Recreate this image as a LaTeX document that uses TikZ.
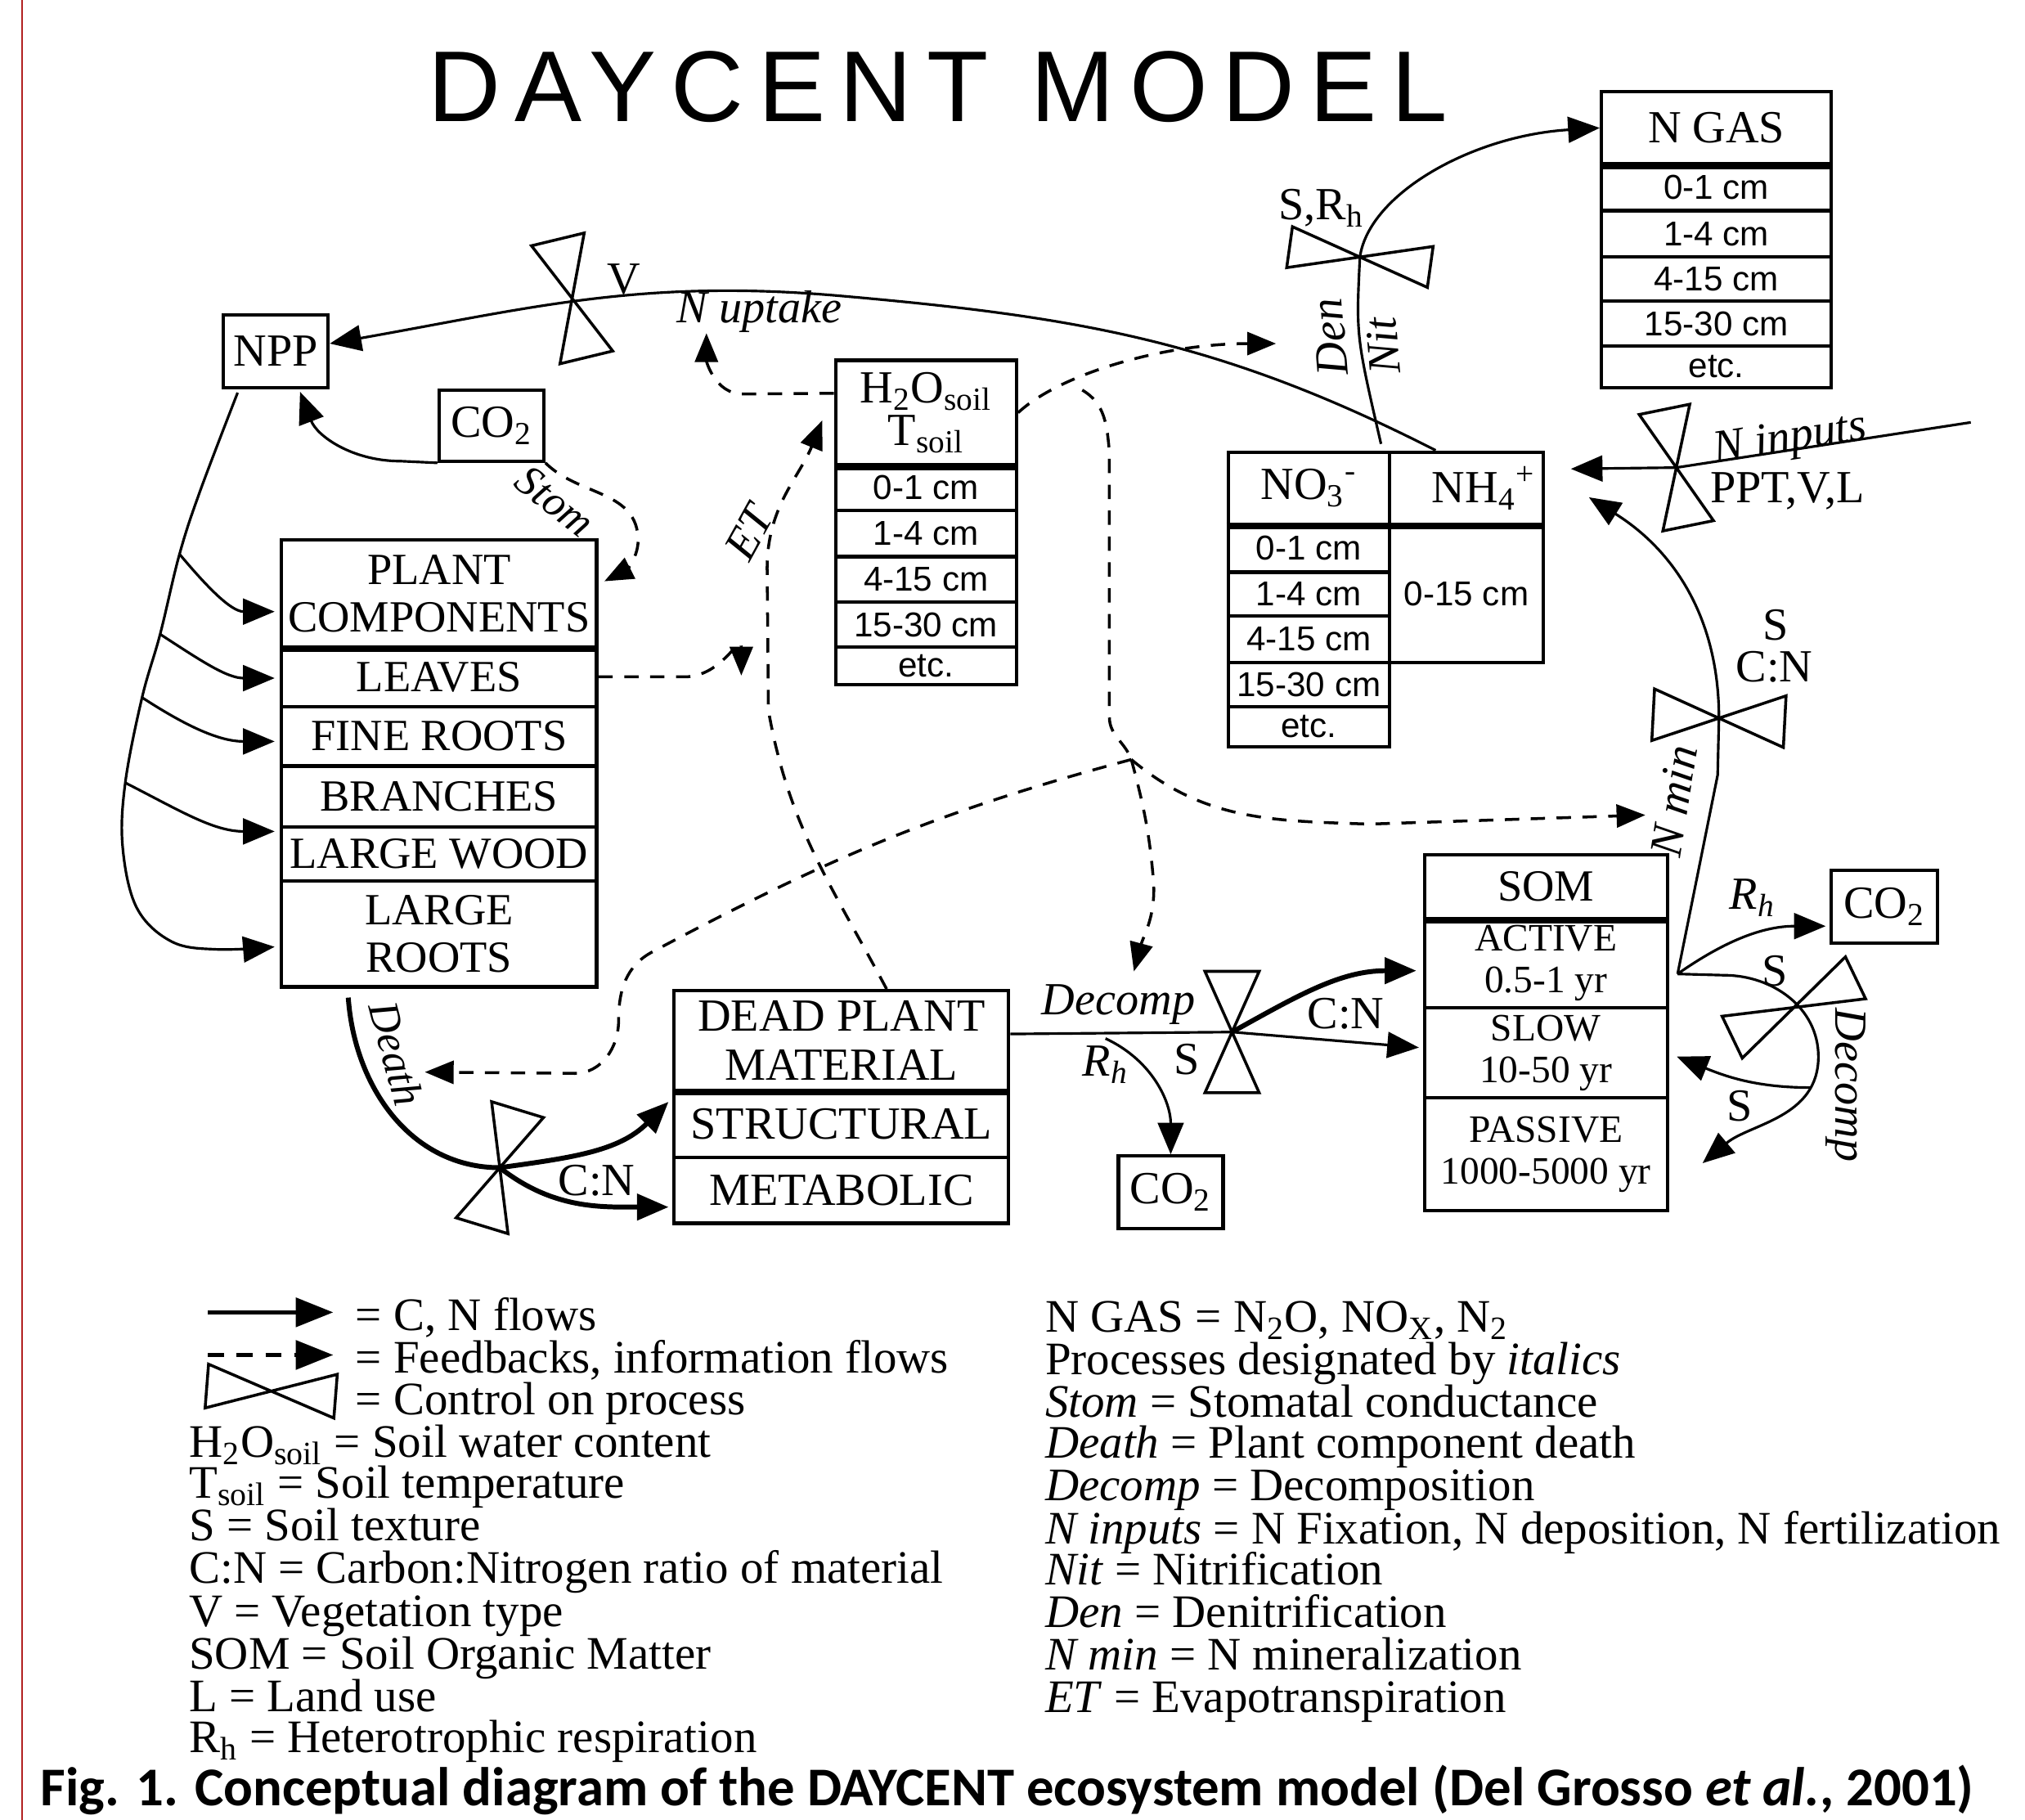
\documentclass[tikz,border=0pt]{standalone}
\usepackage{fontspec}
\setmainfont{Liberation Serif}
\setsansfont{Liberation Sans}
\newfontfamily\titlefont{Liberation Sans}[LetterSpace=14.5]
\newfontfamily\capfont{Carlito}
\usepackage{tikz}
\usetikzlibrary{arrows.meta,calc}
\definecolor{edgered}{RGB}{178,34,34}

\newcommand\pxu{0.1579mm}
% one cell of a box: [style]{name}{x1}{y1}{x2}{y2}{text}, y counted downwards
\newcommand\boxcell[7][]{%
  \node[cellbox,#1,minimum width={(#5-#3)*\pxu},minimum height={(#6-#4)*\pxu}]
    (#2) at ({(#3+#5)/2},{-(#4+#6)/2}) {#7};}

\begin{document}
\begin{tikzpicture}[x=\pxu,y=\pxu,
    cellbox/.style={draw,line width=1.2pt,inner sep=0pt,align=center,
      font=\fontsize{16}{17}\selectfont},
    plantrow/.style={font=\fontsize{15.5}{16.5}\selectfont},
    depth/.style={font=\sffamily\fontsize{12}{13}\selectfont},
    yrs/.style={font=\fontsize{13.5}{14.5}\selectfont},
    hdrline/.style={line width=2.4pt},
    cnline/.style={line width=0.9pt},
    cnflow/.style={cnline,-{Triangle[length=11pt,width=9pt]}},
    thickline/.style={line width=1.7pt},
    thickflow/.style={thickline,-{Triangle[length=11pt,width=9pt]}},
    fbline/.style={line width=1pt,dash pattern=on 5pt off 4pt},
    fback/.style={fbline,-{Triangle[length=10pt,width=8pt]}},
    lbl/.style={font=\fontsize{16}{17}\selectfont,inner sep=0pt},
    proc/.style={font=\itshape\fontsize{16}{17}\selectfont,inner sep=0pt},
    keytext/.style={font=\fontsize{16.2}{18}\selectfont,anchor=base west,inner sep=0pt,
      text height=10pt,text depth=2pt},
    pics/valve/.style n args={2}{code={
      \draw[line width=1pt,line join=miter] (-#1,#2) -- (#1,#2) -- (-#1,-#2) -- (#1,-#2) -- cycle;}}
  ]
  \useasboundingbox (0,0) rectangle (1568,-1409);
  \draw[edgered,line width=0.7pt] (17,0) -- (17,-1409);

  \node[font=\titlefont\fontsize{35}{37}\selectfont] (title) at (726,-67) {DAYCENT MODEL};

  % boxes
  \boxcell{npp}{173}{244}{254}{300}{NPP}
  \boxcell{co2t}{340}{302}{421}{357}{CO\textsubscript{2}}
  \boxcell{co2r}{1418}{674}{1500}{730}{CO\textsubscript{2}}
  \boxcell{co2b}{866}{895}{947}{951}{CO\textsubscript{2}}

  \boxcell[plantrow]{pc}{218}{418}{462}{501}{PLANT\\COMPONENTS}
  \boxcell[plantrow]{leaves}{218}{501}{462}{547}{LEAVES}
  \boxcell[plantrow]{froots}{218}{547}{462}{593}{FINE ROOTS}
  \boxcell[plantrow]{branches}{218}{593}{462}{640}{BRANCHES}
  \boxcell[plantrow]{lwood}{218}{640}{462}{682}{LARGE WOOD}
  \boxcell[plantrow]{lroots}{218}{682}{462}{764}{LARGE\\ROOTS}
  \draw[hdrline] (pc.south west) -- (pc.south east);

  \boxcell[font=\fontsize{16}{15}\selectfont]{h2o}{647}{279}{787}{360}{H\textsubscript{2}O\textsubscript{soil}\\T\textsubscript{soil}}
  \boxcell[depth]{h2oa}{647}{360}{787}{395}{0-1 cm}
  \boxcell[depth]{h2ob}{647}{395}{787}{431}{1-4 cm}
  \boxcell[depth]{h2oc}{647}{431}{787}{466}{4-15 cm}
  \boxcell[depth]{h2od}{647}{466}{787}{501}{15-30 cm}
  \boxcell[depth]{h2oe}{647}{501}{787}{530}{etc.}
  \draw[hdrline] (h2o.south west) -- (h2o.south east);

  \boxcell{no3}{951}{350}{1076}{406}{NO\textsubscript{3}\textsuperscript{-}}
  \boxcell{nh4}{1076}{350}{1195}{406}{\hspace*{12pt}NH\textsubscript{4}\textsuperscript{+}}
  \boxcell[depth]{no3a}{951}{406}{1076}{443}{0-1 cm}
  \boxcell[depth]{no3b}{951}{443}{1076}{477}{1-4 cm}
  \boxcell[depth]{no3c}{951}{477}{1076}{513}{4-15 cm}
  \boxcell[depth]{no3d}{951}{513}{1076}{547}{15-30 cm}
  \boxcell[depth]{no3e}{951}{547}{1076}{578}{etc.}
  \boxcell[depth]{nh4a}{1076}{406}{1195}{513}{0-15 cm}
  \draw[hdrline] (no3.south west) -- (nh4.south east);

  \boxcell{ngas}{1240}{71}{1418}{127}{N GAS}
  \boxcell[depth]{ngasa}{1240}{127}{1418}{163}{0-1 cm}
  \boxcell[depth]{ngasb}{1240}{163}{1418}{199}{1-4 cm}
  \boxcell[depth]{ngasc}{1240}{199}{1418}{233}{4-15 cm}
  \boxcell[depth]{ngasd}{1240}{233}{1418}{268}{15-30 cm}
  \boxcell[depth]{ngase}{1240}{268}{1418}{300}{etc.}
  \draw[hdrline] (ngas.south west) -- (ngas.south east);

  \boxcell{dpm}{522}{767}{781}{844}{DEAD PLANT\\MATERIAL}
  \boxcell{str}{522}{844}{781}{896}{STRUCTURAL}
  \boxcell{met}{522}{896}{781}{947}{METABOLIC}
  \draw[hdrline] (dpm.south west) -- (dpm.south east);

  \boxcell[font=\fontsize{15.5}{16}\selectfont]{som}{1103}{662}{1291}{711}{SOM}
  \boxcell[yrs]{active}{1103}{711}{1291}{780}{ACTIVE\\0.5-1 yr}
  \boxcell[yrs]{slow}{1103}{780}{1291}{850}{SLOW\\10-50 yr}
  \boxcell[yrs]{passive}{1103}{850}{1291}{937}{PASSIVE\\1000-5000 yr}
  \draw[hdrline] (som.south west) -- (som.south east);

  % controls on process
  \coordinate (vV) at (443,-231);
  \coordinate (vDen) at (1053,-199);
  \coordinate (vIn) at (1298,-362);
  \coordinate (vMin) at (1331,-556);
  \coordinate (vSom) at (1389,-780);
  \coordinate (vDec) at (954,-799);
  \coordinate (vDeath) at (387,-904);
  \pic[rotate=13.6] at (vV) {valve={21}{47}};
  \pic[rotate=82] at (vDen) {valve={16}{55}};
  \pic[rotate=11.5] at (vIn) {valve={20}{46}};
  \pic[rotate=87] at (vMin) {valve={20}{51}};
  \pic[rotate=115.7] at (vSom) {valve={18}{53}};
  \pic at (vDec) {valve={21}{47}};
  \pic[rotate=-17] at (vDeath) {valve={21}{47}};

  % C, N flows
  \coordinate (nppout) at (184,-304);
  \coordinate (b1) at (139,-429);
  \coordinate (b2) at (124,-491);
  \coordinate (b3) at (110,-540);
  \coordinate (b4) at (97,-606);
  \coordinate (lrin) at ($(lroots.west)+(-4,-10)$);
  \draw[cnflow] plot[smooth,tension=0.6] coordinates {(nppout) (155,-380) (b1) (b2) (b3) (b4) (95,-656) (106,-703) (133,-729) (168,-735) (lrin)};
  \draw[cnflow] (b1) to[out=-50,in=180] ($(pc.west)+(-4,-14)$);
  \draw[cnflow] (b2) to[out=-33,in=180] ($(leaves.west)+(-4,-1)$);
  \draw[cnflow] (b3) to[out=-33,in=180] ($(froots.west)+(-4,-4)$);
  \draw[cnflow] (b4) to[out=-27,in=180] ($(lwood.north west)+(-4,-5)$);

  \coordinate (upstart) at ($(nh4.north west)+(37,0)$);
  \draw[cnflow] (upstart) to[out=153,in=-5] (650,-229) to[out=175,in=10] ($(npp.east)+(0,6)$);
  \draw[cnflow] (co2t.south west) -- (310,-357) to[out=180,in=-69] ($(npp.south east)+(-23,-2)$);

  \coordinate (denstart) at ($(no3.north east)+(-8,5)$);
  \draw[cnflow] (denstart) .. controls (1050,-260) .. (vDen)
    .. controls (1060,-150) and (1140,-105) .. (ngas.west);

  \coordinate (nsrc) at (1526,-327);
  \draw[cnflow] (nsrc) -- (vIn) -- ($(nh4.east)+(20,15)$);

  \draw[cnline] ($(dpm.east)+(0,5)$) -- (vDec);
  \draw[thickflow] (vDec) to[out=29,in=180] ($(active.west)+(-5,-6)$);
  \draw[cnflow] (vDec) -- ($(slow.west)+(-3,4)$);
  \coordinate (rhdead) at (856,-804);
  \draw[cnflow] (rhdead) to[out=-25,in=90] (co2b.north);

  \draw[thickline] ($(lroots.south west)+(53,-7)$) to[out=-86,in=180] (vDeath);
  \draw[thickflow] (vDeath) to[out=8,in=-135] ($(str.west)+(-3,17)$);
  \draw[thickflow] (vDeath) to[out=-38,in=180] ($(met.west)+(-3,-13)$);

  \coordinate (somout) at (1299,-754);
  \draw[cnflow] (somout) -- (1330,-600) -- (vMin) to[out=90,in=-32] ($(nh4.east)+(34,-7)$);
  \draw[cnflow] (somout) to[out=35,in=180] ($(co2r.west)+(-3,-15)$);
  \draw[cnflow] (somout) -- (1335,-755) to[out=0,in=90] (1408,-818) to[out=-90,in=40] ($(passive.east)+(26,-7)$);
  \coordinate (rec) at (1402,-842);
  \draw[cnflow] (rec) to[out=180,in=-22] ($(slow.east)+(6,-3)$);

  % feedbacks, information flows
  \draw[fback] (co2t.south east) to[out=-45,in=95] (494,-415) to[out=-85,in=27] (468,-450);
  \draw[fback] ($(h2o.west)+(0,15)$) -- (575,-305) to[out=180,in=-90] (547,-258);
  \draw[fback] (leaves.east) -- (530,-524) .. controls (560,-524) and (574,-488) .. (574,-523);
  \draw[fback] ($(dpm.north)+(35,0)$) to[out=118,in=-80] (595,-550) -- (594,-440) to[out=90,in=-112] ($(h2o.west)+(-9,-6)$);
  \draw[fback] (h2o.east) .. controls (820,-290) and (900,-266) .. (988,-266);
  \coordinate (fbsplit) at (838,-302);
  \coordinate (jn) at (876,-588);
  \draw[fbline] (fbsplit) to[out=-30,in=95] (859,-350) -- (859,-555) to[out=-90,in=110] (jn);
  \draw[fback] (jn) to[out=-75,in=95] (893,-680) to[out=-85,in=75] (878,-752);
  \draw[fback] (jn) to[out=-40,in=178] (1060,-638) -- (1274,-631);
  \draw[fback] (jn) to[out=195,in=28] (505,-737) to[out=208,in=90] (479,-790) to[out=-90,in=0] (445,-831) -- (329,-830);

  % labels on the flows
  \node[lbl] (lV) at (483,-216) {V};
  \node[proc] (lup) at (588,-241) {N uptake};
  \node[proc,rotate=-38,font=\itshape\fontsize{15}{16}\selectfont] (lstom) at (430,-388) {Stom};
  \node[proc,rotate=61] (let) at (580,-412) {ET};
  \node[proc,rotate=-75,font=\itshape\fontsize{15}{16}\selectfont] (ldeath) at (307,-816) {Death};
  \node[lbl] (lcn1) at (462,-914) {C:N};
  \node[proc] (ldec) at (866,-778) {Decomp};
  \node[proc] (lrh1) at (856,-824) {R\textsubscript{h}};
  \node[lbl] (ls1) at (919,-820) {S};
  \node[lbl] (lcn2) at (1042,-785) {C:N};
  \node[lbl] (lsrh) at (1023,-161) {S,R\textsubscript{h}};
  \node[proc,rotate=95] (lden) at (1030,-261) {Den};
  \node[proc,rotate=95] (lnit) at (1071,-268) {Nit};
  \node[proc,rotate=8.7] (lin) at (1386,-341) {N inputs};
  \node[lbl] (lppt) at (1384,-380) {PPT,V,L};
  \node[lbl] (ls2) at (1375,-484) {S};
  \node[lbl] (lcn3) at (1374,-516) {C:N};
  \node[proc,rotate=81] (lmin) at (1296,-620) {N min};
  \node[proc] (lrh2) at (1357,-695) {R\textsubscript{h}};
  \node[lbl] (ls3) at (1374,-752) {S};
  \node[lbl] (ls4) at (1347,-856) {S};
  \node[proc,rotate=-90] (ldec2) at (1429,-840) {Decomp};

  % key
  \coordinate (k1a) at (161,-1016);
  \coordinate (k1b) at (258,-1016);
  \coordinate (k2a) at (161,-1049);
  \coordinate (k2b) at (258,-1049);
  \draw[line width=1.4pt,-{Triangle[length=13pt,width=10pt]}] (k1a) -- (k1b);
  \draw[line width=1.4pt,dash pattern=on 5.5pt off 4.5pt,-{Triangle[length=13pt,width=10pt]}] (k2a) -- (k2b);
  \pic[rotate=85.5] at (210,-1077) {valve={17}{50}};
  \node[keytext] (k1) at (275,-1030) {= C, N flows};
  \node[keytext] (k2) at (275,-1063) {= Feedbacks, information flows};
  \node[keytext] (k3) at (275,-1095) {= Control on process};
  \node[keytext] (k4) at (146,-1128) {H\textsubscript{2}O\textsubscript{soil} = Soil water content};
  \node[keytext] (k5) at (146,-1160) {T\textsubscript{soil} = Soil temperature};
  \node[keytext] (k6) at (146,-1193) {S = Soil texture};
  \node[keytext] (k7) at (146,-1226) {C:N = Carbon:Nitrogen ratio of material};
  \node[keytext] (k8) at (146,-1259) {V = Vegetation type};
  \node[keytext] (k9) at (146,-1292) {SOM = Soil Organic Matter};
  \node[keytext] (k10) at (146,-1325) {L = Land use};
  \node[keytext] (k11) at (146,-1357) {R\textsubscript{h} = Heterotrophic respiration};

  \node[keytext] (r1) at (809,-1031) {N GAS = N\textsubscript{2}O, NO\textsubscript{X}, N\textsubscript{2}};
  \node[keytext] (r2) at (809,-1064) {Processes designated by \textit{italics}};
  \node[keytext] (r3) at (809,-1097) {\textit{Stom} = Stomatal conductance};
  \node[keytext] (r4) at (809,-1129) {\textit{Death} = Plant component death};
  \node[keytext] (r5) at (809,-1162) {\textit{Decomp} = Decomposition};
  \node[keytext] (r6) at (809,-1195) {\textit{N inputs} = N Fixation, N deposition, N fertilization};
  \node[keytext] (r7) at (809,-1227) {\textit{Nit} = Nitrification};
  \node[keytext] (r8) at (809,-1260) {\textit{Den} = Denitrification};
  \node[keytext] (r9) at (809,-1293) {\textit{N min} = N mineralization};
  \node[keytext] (r10) at (809,-1326) {\textit{ET} = Evapotranspiration};

  \node[anchor=base west,inner sep=0pt,font=\capfont\bfseries\fontsize{19}{21}\selectfont] (caption) at (31,-1398)
    {Fig. 1. Conceptual diagram of the DAYCENT ecosystem model (Del Grosso \textit{et al.}, 2001)};
\end{tikzpicture}
\end{document}
